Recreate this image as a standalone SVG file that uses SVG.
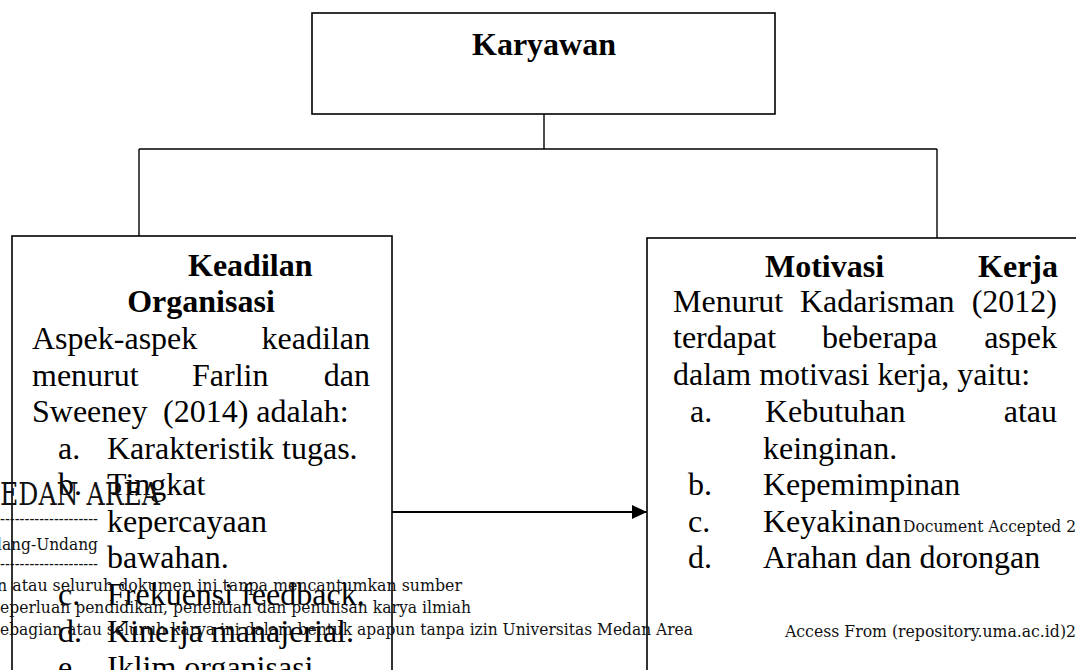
<svg xmlns="http://www.w3.org/2000/svg" width="1076" height="670" viewBox="0 0 1076 670">
<style>
.box{fill:#fff;stroke:#000;stroke-width:1.6}
.ln{fill:none;stroke:#000;stroke-width:1.4}
.t{font-family:"Liberation Serif","Times New Roman",serif;font-size:32px;fill:#000}
.b{font-weight:bold}
.e{text-anchor:end}
.m{text-anchor:middle}
.w{font-family:"DejaVu Serif","Liberation Serif",serif;font-size:16px;fill:#111}
</style>
<defs>
<marker id="ah" markerWidth="16" markerHeight="14" refX="15" refY="7" orient="auto" markerUnits="userSpaceOnUse">
<polygon points="0,0 15,7 0,14" fill="#000"/>
</marker>
</defs>
<rect width="1076" height="670" fill="#fff"/>
<g id="connectors">
<line class="ln" x1="544" y1="114" x2="544" y2="149"/>
<line class="ln" x1="139" y1="149" x2="937" y2="149"/>
<line class="ln" x1="139" y1="149" x2="139" y2="237"/>
<line class="ln" x1="937" y1="149" x2="937" y2="238"/>
<line x1="392" y1="512" x2="647" y2="512" stroke="#000" stroke-width="2.2" marker-end="url(#ah)"/>
</g>
<g id="karyawan">
<rect class="box" x="312" y="13" width="463" height="101"/>
<text class="t b m" x="544" y="55">Karyawan</text>
</g>
<g id="keadilan">
<rect class="box" x="12" y="236" width="380" height="460"/>
<text class="t b" x="188" y="276">Keadilan</text>
<text class="t b m" x="201" y="312">Organisasi</text>
<text class="t" x="32" y="349">Aspek-aspek</text><text class="t e" x="370" y="349">keadilan</text>
<text class="t" x="32" y="386">menurut</text><text class="t" x="192" y="386">Farlin</text><text class="t e" x="370" y="386">dan</text>
<text class="t" x="32" y="422">Sweeney</text><text class="t" x="163" y="422">(2014) adalah:</text>
<text class="t" x="58" y="459">a.</text><text class="t" x="107" y="459">Karakteristik tugas.</text>
<text class="t" x="58" y="495">b.</text><text class="t" x="107" y="495">Tingkat</text>
<text class="t" x="107" y="532">kepercayaan</text>
<text class="t" x="107" y="568">bawahan.</text>
<text class="t" x="58" y="605">c.</text><text class="t" x="107" y="605">Frekuensi feedback.</text>
<text class="t" x="58" y="642">d.</text><text class="t" x="107" y="642">Kinerja manajerial.</text>
<text class="t" x="58" y="678">e.</text><text class="t" x="107" y="678">Iklim organisasi</text>
</g>
<g id="motivasi">
<rect class="box" x="647" y="238" width="460" height="460"/>
<text class="t b" x="765" y="277">Motivasi</text><text class="t b e" x="1058" y="277">Kerja</text>
<text class="t" x="673" y="312">Menurut</text><text class="t" x="800" y="312">Kadarisman</text><text class="t e" x="1057" y="312">(2012)</text>
<text class="t" x="673" y="348">terdapat</text><text class="t" x="822" y="348">beberapa</text><text class="t e" x="1057" y="348">aspek</text>
<text class="t" x="673" y="385">dalam motivasi kerja, yaitu:</text>
<text class="t" x="690" y="422">a.</text><text class="t" x="765" y="422">Kebutuhan</text><text class="t e" x="1057" y="422">atau</text>
<text class="t" x="763" y="459">keinginan.</text>
<text class="t" x="688" y="495">b.</text><text class="t" x="763" y="495">Kepemimpinan</text>
<text class="t" x="688" y="532">c.</text><text class="t" x="763" y="532">Keyakinan</text>
<text class="t" x="688" y="568">d.</text><text class="t" x="763" y="568">Arahan dan dorongan</text>
</g>
<g id="watermark">
<text class="w" x="0" y="505" style="font-size:31px" textLength="160" lengthAdjust="spacingAndGlyphs">EDAN AREA</text>
<text class="w" x="0" y="524" textLength="98" lengthAdjust="spacingAndGlyphs">--------------------</text>
<text class="w e" x="98" y="550" textLength="106" lengthAdjust="spacingAndGlyphs">dang-Undang</text>
<text class="w" x="0" y="569" textLength="98" lengthAdjust="spacingAndGlyphs">--------------------</text>
<text class="w" x="-3" y="591" textLength="465" lengthAdjust="spacingAndGlyphs">n atau seluruh dokumen ini tanpa mencantumkan sumber</text>
<text class="w" x="0" y="613" textLength="471" lengthAdjust="spacingAndGlyphs">eperluan pendidikan, penelitian dan penulisan karya ilmiah</text>
<text class="w" x="0" y="635" textLength="693" lengthAdjust="spacingAndGlyphs">ebagian atau seluruh karya ini dalam bentuk apapun tanpa izin Universitas Medan Area</text>
<text class="w" x="903" y="532" style="font-size:17px" textLength="173" lengthAdjust="spacingAndGlyphs">Document Accepted 2</text>
<text class="w" x="785" y="637" style="font-size:17px" textLength="291" lengthAdjust="spacingAndGlyphs">Access From (repository.uma.ac.id)2</text>
</g>
</svg>
